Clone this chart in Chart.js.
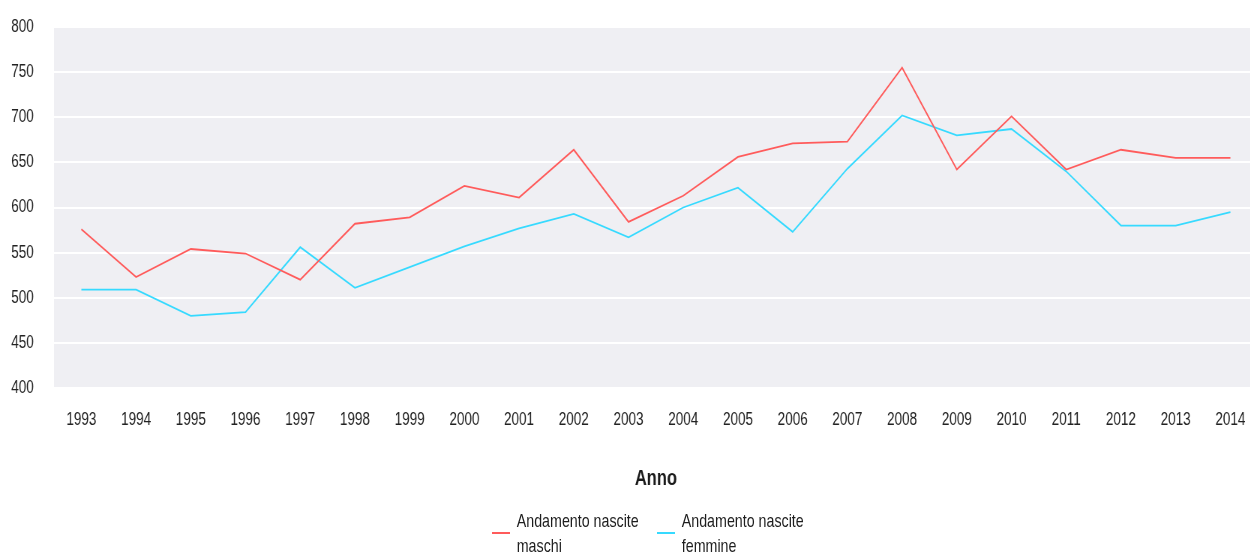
<!DOCTYPE html>
<html>
<head>
<meta charset="utf-8">
<script src="https://cdn.jsdelivr.net/npm/chart.js@4/dist/chart.umd.min.js"></script>
<style>
  html, body { margin: 0; padding: 0; background: #fff; overflow: hidden; }
  #outer { position: relative; width: 1250px; height: 553px; overflow: hidden; }
  #wrap { position: absolute; left: 0; top: 0; width: 1677px; height: 553px; transform: scaleX(0.75); transform-origin: 0 0; }
  #c { position: absolute; left: 0; top: 0; width: 1677px; height: 553px; }
  .leg { position: absolute; font-family: "Liberation Sans", Arial, sans-serif; font-size: 19px; color: #1e1e1e; line-height: 25px; white-space: nowrap; }
  .sw { position: absolute; height: 2px; width: 24px; }
</style>
</head>
<body>
<div id="outer">
<div id="wrap">
  <canvas id="c" width="1677" height="553"></canvas>
  <div class="sw" id="sw0" style="left:656px; top:532px;"></div>
  <div class="leg" id="lg0" style="left:689px; top:508px;"></div>
  <div class="sw" id="sw1" style="left:876px; top:532px;"></div>
  <div class="leg" id="lg1" style="left:909px; top:508px;"></div>
</div>
</div>
<script>
const years = ['1993','1994','1995','1996','1997','1998','1999','2000','2001','2002','2003','2004','2005','2006','2007','2008','2009','2010','2011','2012','2013','2014'];
const maschi = [576, 523, 554, 549, 520, 582, 589, 624, 611, 664, 584, 613, 656, 671, 673, 755, 642, 701, 642, 664, 655, 655];
const femmine = [509, 509, 480, 484, 556, 511, 534, 557, 577, 593, 567, 600, 622, 573, 643, 702, 680, 687, 640, 580, 580, 595];
const seriesNames = [['Andamento nascite', 'maschi'], ['Andamento nascite', 'femmine']];
const seriesColors = ['#FF5B5B', '#36DAFF'];
const yTicks = [400, 450, 500, 550, 600, 650, 700, 750, 800];
const xTitle = 'Anno';

const FONT = '"Liberation Sans", Arial, sans-serif';

const bgPlugin = {
  id: 'plotBg',
  beforeDraw(chart) {
    const {ctx, chartArea: a} = chart;
    ctx.save();
    ctx.fillStyle = 'rgb(239,239,243)';
    ctx.fillRect(a.left, a.top, a.right - a.left, a.bottom - a.top);
    ctx.restore();
  }
};

[0, 1].forEach(i => {
  document.getElementById('sw' + i).style.background = seriesColors[i];
  document.getElementById('lg' + i).innerHTML = seriesNames[i].join('<br>');
});

new Chart(document.getElementById('c'), {
  type: 'line',
  data: {
    labels: years,
    datasets: [
      { label: seriesNames[0].join(' '), data: maschi, borderColor: seriesColors[0], borderWidth: 1.8, pointRadius: 0, tension: 0, fill: false },
      { label: seriesNames[1].join(' '), data: femmine, borderColor: seriesColors[1], borderWidth: 1.8, pointRadius: 0, tension: 0, fill: false }
    ]
  },
  options: {
    responsive: false,
    maintainAspectRatio: false,
    animation: false,
    devicePixelRatio: 1,
    layout: { padding: { top: 27, left: 0, right: 0, bottom: 0 } },
    plugins: { legend: { display: false }, tooltip: { enabled: false } },
    scales: {
      x: {
        offset: true,
        grid: { display: false, drawTicks: false },
        border: { display: false },
        ticks: { color: '#222', font: { family: FONT, size: 18 }, padding: 21, maxRotation: 0, autoSkip: false },
        title: { display: true, text: xTitle, color: '#1a1a1a', font: { family: FONT, size: 22, weight: 'bold' }, padding: { top: 0, bottom: 61 } },
        afterFit(s) { s.height = 165; s.paddingLeft = 0; s.paddingRight = 0; }
      },
      y: {
        min: 400, max: 800,
        afterBuildTicks(s) { s.ticks = yTicks.map(v => ({ value: v })); },
        grid: { color: '#ffffff', lineWidth: 2, drawTicks: false },
        border: { display: false },
        ticks: { color: '#222', font: { family: FONT, size: 18 }, padding: 27 },
        afterFit(s) { s.width = 72; s.paddingTop = 0; s.paddingBottom = 0; }
      }
    }
  },
  plugins: [bgPlugin]
});
</script>
</body>
</html>
